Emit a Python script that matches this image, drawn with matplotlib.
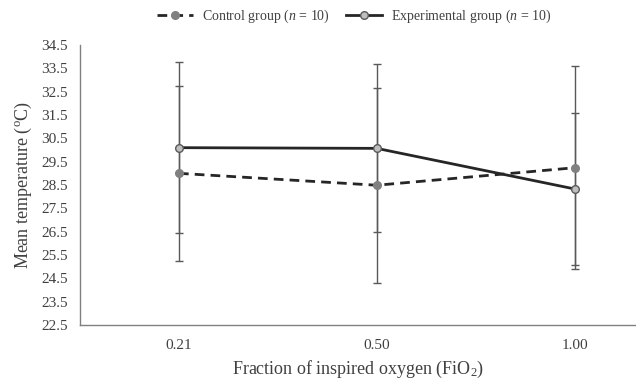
import matplotlib
matplotlib.use("Agg")
import matplotlib.pyplot as plt
import numpy as np

categories = ["0.21", "0.50", "1.00"]
control_mean = [29.0, 28.49, 29.24]
control_err = [3.74, 4.17, 4.35]
exp_mean = [30.10, 30.07, 28.33]
exp_err = [3.66, 3.60, 3.26]
yticks = [22.5, 23.5, 24.5, 25.5, 26.5, 27.5, 28.5, 29.5, 30.5, 31.5, 32.5, 33.5, 34.5]

plt.rcParams['font.family'] = ['Liberation Serif', 'DejaVu Serif']
plt.rcParams['mathtext.fontset'] = 'custom'
plt.rcParams['mathtext.rm'] = 'Liberation Serif'
plt.rcParams['mathtext.it'] = 'Liberation Serif:italic'

fig = plt.figure(figsize=(6.36, 3.83), dpi=100)
ax = fig.add_axes([80/636, 58/383, 556/636, 280/383])

x = np.arange(len(categories))
txt = '#404040'
ebc = '#595959'

ax.errorbar(x, control_mean, yerr=control_err, fmt='none', ecolor=ebc, elinewidth=1.0, capsize=3, capthick=1.0, zorder=2)
ax.errorbar(x, exp_mean, yerr=exp_err, fmt='none', ecolor=ebc, elinewidth=1.0, capsize=3, capthick=1.0, zorder=2)
ax.plot(x, control_mean, linestyle=(0, (3.5, 2.2)), color='#262626', linewidth=2.0,
        marker='o', markersize=5.5, markerfacecolor='#808080', markeredgecolor='#808080', zorder=3,
        label='Control group ($n$ = 10)')
ax.plot(x, exp_mean, linestyle='-', color='#262626', linewidth=2.0,
        marker='o', markersize=5.5, markerfacecolor='#bfbfbf', markeredgecolor='#595959', markeredgewidth=1.0, zorder=4,
        label='Experimental group ($n$ = 10)')

ax.set_xlim(-0.5, 2.31)
ax.set_ylim(22.5, 34.5)
ax.set_yticks(yticks)
ax.set_yticklabels([f"{v:.1f}" for v in yticks])
ax.set_xticks(x)
ax.set_xticklabels(categories)
ax.tick_params(axis='y', length=0, labelsize=11, colors=txt, pad=9)
ax.tick_params(axis='x', length=0, labelsize=11, colors=txt, pad=10)

for s in ['top', 'right']:
    ax.spines[s].set_visible(False)
for s in ['left', 'bottom']:
    ax.spines[s].set_color('#808080')
    ax.spines[s].set_linewidth(1.0)

ax.set_ylabel('Mean temperature ($^{\\rm o}$C)', fontsize=13, color=txt, labelpad=5)
ax.set_xlabel('Fraction of inspired oxygen (FiO$_2$)', fontsize=13, color=txt, labelpad=5)

leg = fig.legend(loc='center', bbox_to_anchor=(354/636, 1 - 16/383), ncol=2, frameon=False,
                 fontsize=10, handlelength=2.6, columnspacing=1.2, handletextpad=0.6)
for t in leg.get_texts():
    t.set_color(txt)

fig.savefig('out.png', dpi=100)
